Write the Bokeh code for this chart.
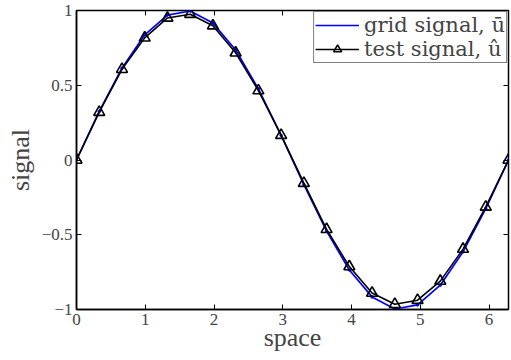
import math
from bokeh.plotting import figure
from bokeh.models import LinearAxis, Legend, LegendItem, FixedTicker, Range1d
from bokeh.embed import file_html
from bokeh.resources import INLINE

x_vals = [0.0, 0.3307, 0.6614, 0.9921, 1.3228, 1.6535, 1.9842, 2.3149, 2.6456, 2.9762,
          3.3069, 3.6376, 3.9683, 4.2990, 4.6297, 4.9604, 5.2911, 5.6218, 5.9525, 6.2832]
grid_signal = [0.0, 0.3247, 0.6142, 0.8372, 0.9694, 0.9966, 0.9158, 0.7357, 0.4759, 0.1646,
               -0.1646, -0.4759, -0.7357, -0.9158, -0.9966, -0.9694, -0.8372, -0.6142, -0.3247, 0.0]
test_signal = [0.0, 0.32, 0.607, 0.817, 0.95, 0.975, 0.898, 0.717, 0.464, 0.166,
               -0.155, -0.464, -0.713, -0.89, -0.965, -0.938, -0.81, -0.596, -0.314, 0.0]
x_ticks = [0, 1, 2, 3, 4, 5, 6]
y_ticks = [-1, -0.5, 0, 0.5, 1]
y_tick_labels = {-1: "\u22121", -0.5: "\u22120.5", 0: "0", 0.5: "0.5", 1: "1"}

FONT = "Liberation Serif"
LFONT = "DejaVu Serif"

p = figure(frame_width=432, frame_height=299, output_backend="svg", toolbar_location=None,
           x_range=Range1d(0, 2 * math.pi), y_range=Range1d(-1, 1),
           min_border_left=76, min_border_right=3, min_border_top=10, min_border_bottom=51)
p.xgrid.visible = False
p.ygrid.visible = False
p.outline_line_color = "black"
p.outline_line_width = 1.5
p.background_fill_color = "white"
p.border_fill_color = "white"

for ax in (p.xaxis[0], p.yaxis[0]):
    ax.major_tick_in = 5
    ax.major_tick_out = 0
    ax.minor_tick_in = 0
    ax.minor_tick_out = 0
    ax.axis_line_width = 1.5
    ax.major_label_text_font = FONT
    ax.major_label_text_font_size = "17px"
    ax.axis_label_text_font = FONT
    ax.axis_label_text_font_size = "26px"
    ax.axis_label_text_font_style = "normal"

p.xaxis[0].ticker = FixedTicker(ticks=x_ticks)
p.yaxis[0].ticker = FixedTicker(ticks=y_ticks)
p.yaxis[0].major_label_overrides = y_tick_labels
p.xaxis[0].axis_label = "space"
p.yaxis[0].axis_label = "signal"
p.xaxis[0].major_label_standoff = 4
p.xaxis[0].axis_label_standoff = -5
p.yaxis[0].major_label_standoff = 4
p.yaxis[0].axis_label_standoff = 4

for loc, ticks in (("right", y_ticks), ("above", x_ticks)):
    a = LinearAxis(ticker=FixedTicker(ticks=ticks), major_tick_in=5, major_tick_out=0,
                   minor_tick_in=0, minor_tick_out=0, major_label_text_font_size="0px",
                   major_label_text_color=None, axis_line_color=None, major_label_standoff=0)
    p.add_layout(a, loc)

r1 = p.line(x_vals, grid_signal, line_color="blue", line_width=1.7)
r1d = p.scatter(x_vals, grid_signal, marker="circle", size=2.5, color="blue")
r2 = p.line(x_vals, test_signal, line_color="black", line_width=1.6)
r2m = p.scatter(x_vals, test_signal, marker="triangle", size=11, line_color="black",
                line_width=1.6, fill_color="white", fill_alpha=0.0)

legend = Legend(items=[LegendItem(label="grid signal, u\u0304", renderers=[r1]),
                       LegendItem(label="test signal, u\u0302", renderers=[r2, r2m])],
                location="top_right", border_line_color="black", border_line_width=1.2,
                background_fill_color="white", background_fill_alpha=1.0,
                label_text_font=LFONT, label_text_font_size="21px",
                glyph_width=44, glyph_height=20, label_standoff=5,
                padding=1, spacing=-4, margin=1, label_height=20)
p.add_layout(legend)

open("out.html", "w").write(file_html(p, INLINE))
